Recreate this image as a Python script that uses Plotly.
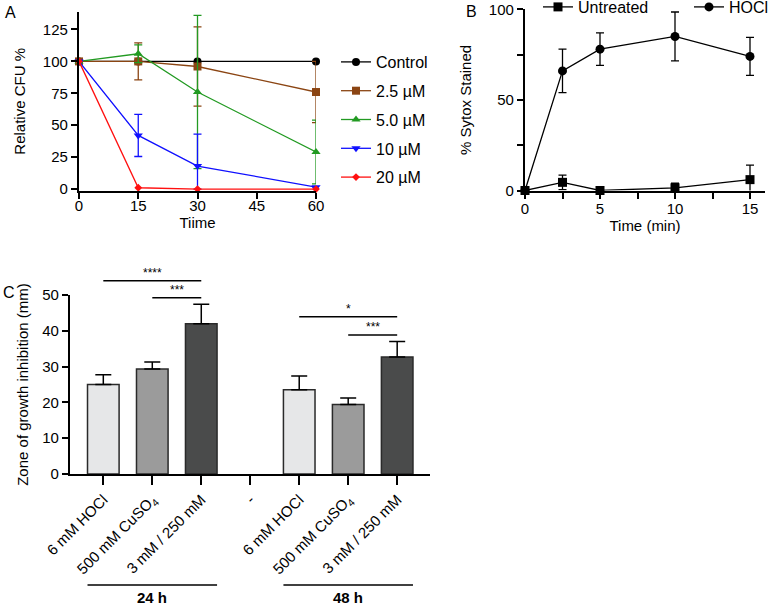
import plotly.graph_objects as go

# ---------------- Panel A data ----------------
time_a = [0, 15, 30, 60]
control = [100, 100, 100, 100]
um2_5 = [100, 100, 96, 76]
um2_5_err_up = [0, 14.5, 31, 24]
um2_5_err_dn = [0, 14.5, 31, 24]
um5 = [100, 106, 76, 29]
um5_err_up = [0, 7, 60, 25]
um5_err_dn = [0, 7, 60, 25]
um10 = [100, 42, 18, 1.5]
um10_err_up = [0, 16.5, 25, 0]
um10_err_dn = [0, 16.5, 18, 0]
um20 = [100, 1, 0, 0]
a_ticks = [0, 15, 30, 45, 60]
a_yticks = [0, 25, 50, 75, 100, 125]

# ---------------- Panel B data ----------------
time_b = [0, 2.5, 5, 10, 15]
untreated = [0, 4.5, 0, 1.5, 6]
untreated_err = [0, 4, 0.5, 2.5, 8]
hocl = [0, 66, 78, 85, 74]
hocl_err = [0, 12, 9, 13.5, 10.5]
b_ticks = [0, 5, 10, 15]
b_yticks = [0, 50, 100]

# ---------------- Panel C data ----------------
c_labels = ["6 mM HOCl", "500 mM CuSO<sub>4</sub>", "3 mM / 250 mM", "-",
            "6 mM HOCl", "500 mM CuSO<sub>4</sub>", "3 mM / 250 mM"]
c_values = [25.0, 29.3, 42.0, None, 23.5, 19.4, 32.7]
c_err = [2.7, 2.0, 5.4, 0, 3.9, 1.8, 4.3]
c_yticks = [0, 10, 20, 30, 40, 50]
# significance brackets: (from bar, to bar, height, label)
sig_from = [0, 1, 4, 5]
sig_to = [2, 2, 6, 6]
sig_y = [54.0, 49.2, 43.9, 38.8]
sig_text = ["****", "***", "*", "***"]
groups = ["24 h", "48 h"]
group_first = [0, 4]
group_last = [2, 6]

FONT = "Arial, Liberation Sans, Helvetica, sans-serif"
W, H = 770, 606
BAR_W = 0.645
c_colors = ["#E6E7E8", "#9B9B9B", "#4A4B4B", "#FFFFFF", "#E6E7E8", "#9B9B9B", "#4A4B4B"]

fig = go.Figure()

def add_a(name, y, color, symbol, size, up=None, dn=None):
    err = None
    if up is not None:
        err = dict(type="data", symmetric=False, array=up, arrayminus=dn,
                   color=color, thickness=1.3, width=4)
    fig.add_trace(go.Scatter(
        x=time_a, y=y, name=name, mode="lines+markers",
        line=dict(color=color, width=1.3),
        marker=dict(color=color, symbol=symbol, size=size),
        error_y=err, xaxis="x", yaxis="y", legend="legend",
        legendgroup=name, cliponaxis=False))

add_a("Control", control, "#000000", "circle", 8)
add_a("2.5 µM", um2_5, "#8B4513", "square", 8, um2_5_err_up, um2_5_err_dn)
add_a("5.0 µM", um5, "#229A22", "triangle-up", 8, um5_err_up, um5_err_dn)
add_a("10 µM", um10, "#1010FF", "triangle-down", 8, um10_err_up, um10_err_dn)
add_a("20 µM", um20, "#FF1010", "diamond", 6)

# Panel B
for name, y, e, sym in [("Untreated", untreated, untreated_err, "square"),
                        ("HOCl", hocl, hocl_err, "circle")]:
    fig.add_trace(go.Scatter(
        x=time_b, y=y, name=name, mode="lines+markers",
        line=dict(color="#000000", width=1.3),
        marker=dict(color="#000000", symbol=sym, size=9),
        error_y=dict(type="data", array=e, color="#000000", thickness=1.3, width=4),
        xaxis="x2", yaxis="y2", legend="legend2", cliponaxis=False))

# Panel C bars
c_x = list(range(len(c_labels)))
fig.add_trace(go.Bar(
    x=c_x, y=c_values, width=BAR_W,
    marker=dict(color=c_colors, line=dict(color="#2A2A2A", width=1.5)),
    error_y=dict(type="data", symmetric=False, array=c_err,
                 arrayminus=[0] * len(c_err), color="#000000", thickness=1.5, width=8),
    xaxis="x3", yaxis="y3", showlegend=False))

annotations = []
shapes = []
# significance brackets on a hidden axis with the same scale as y3, but taller
for f, t, yv, txt in zip(sig_from, sig_to, sig_y, sig_text):
    fig.add_trace(go.Scatter(
        x=[f, t], y=[yv, yv], mode="lines", line=dict(color="#000000", width=1.5),
        xaxis="x3", yaxis="y4", showlegend=False, hoverinfo="skip"))
    annotations.append(dict(x=(f + t) / 2, y=yv, xref="x3", yref="y4", text=txt,
                            showarrow=False, yanchor="bottom", yshift=-1,
                            font=dict(size=12, color="#000000", family=FONT)))

for g, f, l in zip(groups, group_first, group_last):
    shapes.append(dict(type="line", xref="x3", yref="paper",
                       x0=f - BAR_W / 2, x1=l + BAR_W / 2,
                       y0=1 - 585 / H, y1=1 - 585 / H,
                       line=dict(color="#000000", width=1.5)))
    annotations.append(dict(x=(f + l) / 2, y=1 - 597 / H, xref="x3", yref="paper",
                            text="<b>" + g + "</b>", showarrow=False, yanchor="middle",
                            font=dict(size=15, color="#000000", family=FONT)))

# panel letters
for lab, px, py in [("A", 10, 12), ("B", 471, 11), ("C", 9, 292)]:
    annotations.append(dict(x=px / W, y=1 - py / H, xref="paper", yref="paper",
                            text=lab, showarrow=False, xanchor="center", yanchor="middle",
                            font=dict(size=16, color="#000000", family=FONT)))

axis_common = dict(showgrid=False, zeroline=False, showline=True, linecolor="#000000",
                   linewidth=2.2, ticks="outside", tickcolor="#000000", tickwidth=2,
                   ticklen=6, automargin=False,
                   tickfont=dict(size=15, color="#000000", family=FONT))

C_TOP = 1 - 295 / H
C_BOT = 1 - 474 / H
PX_PER_UNIT = (474 - 295) / 50.0
C_EXT_TOP = 1 - (474 - 59 * PX_PER_UNIT) / H

fig.update_layout(
    template="none",
    width=W, height=H, autosize=False,
    margin=dict(l=0, r=0, t=0, b=0, pad=0, autoexpand=False),
    paper_bgcolor="white", plot_bgcolor="rgba(0,0,0,0)",
    font=dict(family=FONT, color="#000000", size=15),
    xaxis=dict(domain=[79 / W, 316 / W], range=[0, 60], tickvals=a_ticks,
               ticklabelstandoff=-6,
               title=dict(text="Tiime", standoff=2, font=dict(size=15)),
               anchor="y", **axis_common),
    yaxis=dict(domain=[1 - 190.7 / H, 1 - 12 / H], range=[-1.3, 138.7], tickvals=a_yticks,
               title=dict(text="Relative CFU %", standoff=14, font=dict(size=15)),
               anchor="x", **axis_common),
    xaxis2=dict(domain=[525 / W, 765 / W], range=[0, 16], tickvals=b_ticks,
                ticklabelstandoff=-3,
                minor=dict(dtick=2.5, tick0=0, ticks="outside", ticklen=6, tickwidth=2,
                           tickcolor="#000000"),
                title=dict(text="Time (min)", standoff=2, font=dict(size=15)),
                anchor="y2", **axis_common),
    yaxis2=dict(domain=[1 - 190.5 / H, 1 - 9.3 / H], range=[0, 100], tickvals=b_yticks,
                minor=dict(dtick=25, tick0=0, ticks="outside", ticklen=6, tickwidth=2,
                           tickcolor="#000000"),
                title=dict(text="% Sytox Stained", standoff=14, font=dict(size=15)),
                anchor="x2", **axis_common),
    xaxis3=dict(domain=[70 / W, 430 / W], range=[-0.68, 6.67], tickvals=c_x,
                ticktext=c_labels, tickangle=-45, anchor="y3",
                **{**axis_common, "ticklen": 9,
                   "tickfont": dict(size=15, color="#000000", family=FONT)}),
    yaxis3=dict(domain=[C_BOT, C_TOP], range=[0, 50], tickvals=c_yticks,
                title=dict(text="Zone of growth inhibition (mm)", standoff=10,
                           font=dict(size=15)),
                anchor="x3", **{**axis_common,
                                "tickfont": dict(size=15, color="#000000", family=FONT)}),
    yaxis4=dict(domain=[C_BOT, C_EXT_TOP], range=[0, 59], visible=False, anchor="x3",
                showgrid=False, zeroline=False),
    legend=dict(x=336 / W, y=1 - 45 / H, xanchor="left", yanchor="top",
                font=dict(size=16, family=FONT), tracegroupgap=5,
                bgcolor="rgba(0,0,0,0)", itemwidth=30),
    legend2=dict(x=538 / W, y=1 + 10 / H, xanchor="left", yanchor="top", orientation="h",
                 font=dict(size=16, family=FONT), entrywidth=106, entrywidthmode="pixels",
                 bgcolor="rgba(0,0,0,0)", itemwidth=30),
    annotations=annotations, shapes=shapes,
)

fig.write_html("out.html", config={"displayModeBar": False},
               post_script="document.body.style.margin='0px';")
